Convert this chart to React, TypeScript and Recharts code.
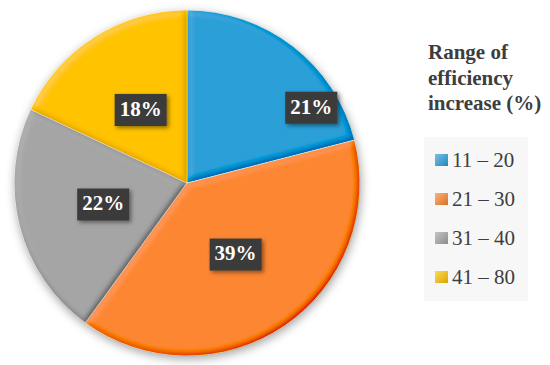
import React from 'react';
import { PieChart, Pie, Cell, Legend } from 'recharts';

const categories = ['11 – 20', '21 – 30', '31 – 40', '41 – 80'];
const shares = [21, 39, 22, 18];
const colors = ['#2a9fd8', '#fd8630', '#a5a5a5', '#ffc300'];
const legendTitle = ['Range of', 'efficiency', 'increase (%)'];

const data = categories.map((name, i) => ({ name, value: shares[i] }));

const RADIAN = Math.PI / 180;
const FONT = '"Liberation Serif", "DejaVu Serif", serif';

const renderLabel = (props: any) => {
  const { cx, cy, midAngle, outerRadius, percent, index } = props;
  // first label was dragged toward the rim in the original chart
  const angle = index === 0 ? midAngle - 21 : midAngle;
  const r = index === 0 ? outerRadius * 0.84 : outerRadius * 0.5;
  const x = cx + r * Math.cos(-angle * RADIAN);
  const y = cy + r * Math.sin(-angle * RADIAN);
  const w = 52;
  const h = 32;
  return (
    <g key={`lbl-${index}`}>
      <rect x={x - w / 2} y={y - h / 2} width={w} height={h} fill="#3a3a3a" filter="url(#lblShadow)" />
      <text
        x={x}
        y={y + 1}
        textAnchor="middle"
        dominantBaseline="middle"
        fill="#ffffff"
        fontFamily={FONT}
        fontWeight="bold"
        fontSize={21}
      >
        {`${Math.round(percent * 100)}%`}
      </text>
    </g>
  );
};

const renderLegend = (props: any) => {
  const payload = props.payload || [];
  return (
    <div style={{ fontFamily: FONT, color: '#3d3d3d' }}>
      <div style={{ fontWeight: 'bold', fontSize: 21, lineHeight: '25.5px', paddingLeft: 4 }}>
        {legendTitle.map((t) => (
          <div key={t}>{t}</div>
        ))}
      </div>
      <div
        style={{
          marginTop: 20,
          background: '#f7f7f7',
          width: 104,
          paddingTop: 4,
          paddingBottom: 4,
        }}
      >
        {payload.map((p: any) => (
          <div
            key={p.value}
            style={{ display: 'flex', alignItems: 'center', height: 39, paddingLeft: 11, fontSize: 21 }}
          >
            <span
              style={{
                display: 'inline-block',
                width: 13,
                height: 12,
                marginRight: 4,
                background: `linear-gradient(135deg, rgba(255,255,255,0.35), rgba(0,0,0,0.15)), ${p.color}`,
                backgroundColor: p.color,
              }}
            />
            <span>{p.value}</span>
          </div>
        ))}
      </div>
    </div>
  );
};

export default function App() {
  return (
    <div style={{ position: 'absolute', left: 0, top: 0, width: 550, height: 365, background: '#fff' }}>
      <style>{`.recharts-pie { filter: drop-shadow(1px 3px 5px rgba(0,0,0,0.35)); }`}</style>
      <PieChart width={550} height={365} margin={{ top: 0, right: 0, bottom: 0, left: 0 }}>
        <defs>
          <filter id="bevel" x="-5%" y="-5%" width="110%" height="110%">
            <feGaussianBlur in="SourceAlpha" stdDeviation="3" result="blur" />
            <feDiffuseLighting in="blur" surfaceScale="4" diffuseConstant="1" lightingColor="#ffffff" result="light">
              <feDistantLight azimuth={225} elevation={60} />
            </feDiffuseLighting>
            <feComposite in="SourceGraphic" in2="light" operator="arithmetic" k1={0} k2={1} k3={0.4} k4={-0.346} result="lit" />
            <feComposite in="lit" in2="SourceAlpha" operator="in" />
          </filter>
          <filter id="lblShadow" x="-30%" y="-30%" width="160%" height="160%">
            <feDropShadow dx="2" dy="2" stdDeviation="2" floodColor="#000" floodOpacity="0.45" />
          </filter>
        </defs>
        <Pie
          data={data}
          dataKey="value"
          nameKey="name"
          cx={187}
          cy={183}
          outerRadius={173}
          startAngle={90}
          endAngle={-270}
          stroke="rgba(255,255,255,0.7)"
          strokeWidth={1}
          label={renderLabel}
          labelLine={false}
          isAnimationActive={false}
        >
          {data.map((d, i) => (
            <Cell key={d.name} fill={colors[i]} filter="url(#bevel)" />
          ))}
        </Pie>
        <Legend
          content={renderLegend}
          wrapperStyle={{ position: 'absolute', left: 424, top: 40, width: 126 }}
        />
      </PieChart>
    </div>
  );
}
